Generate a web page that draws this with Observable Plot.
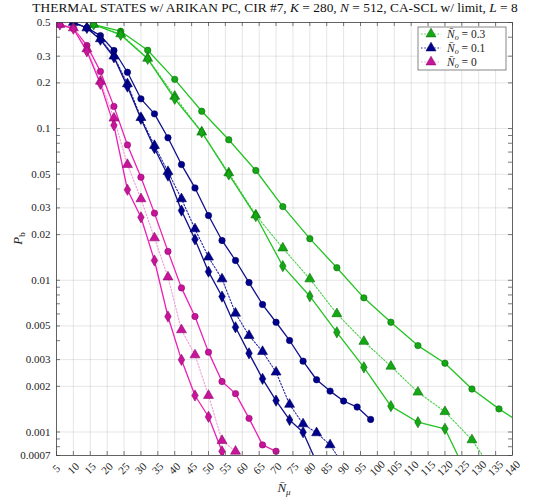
<!DOCTYPE html>
<html><head><meta charset="utf-8">
<script src="https://cdn.jsdelivr.net/npm/d3@7"></script>
<script src="https://cdn.jsdelivr.net/npm/@observablehq/plot@0.6"></script>
<style>
body{margin:0;background:#fff;}
#wrap{position:relative;width:550px;height:500px;font-family:"Liberation Serif",serif;}
#title{position:absolute;top:0;left:0;width:550px;text-align:center;font-size:13.4px;line-height:16px;white-space:nowrap;color:#111;}
#chart svg, #chart svg text{font-family:"Liberation Serif",serif !important;}
</style></head><body>
<div id="wrap"><div id="chart"></div><div id="title">THERMAL STATES w/ ARIKAN PC, CIR #7, <i>K</i> = 280, <i>N</i> = 512, CA-SCL w/ limit, <i>L</i> = 8</div></div>
<script>
// ---- tick labels ----
const xTicks = [5,10,15,20,25,30,35,40,45,50,55,60,65,70,75,80,85,90,95,100,105,110,115,120,125,130,135,140];
const yTicks = [0.0007,0.001,0.002,0.003,0.005,0.01,0.02,0.03,0.05,0.1,0.2,0.3,0.5];
const yTickLabels = ["0.0007","0.001","0.002","0.003","0.005","0.01","0.02","0.03","0.05","0.1","0.2","0.3","0.5"];
const legendLabels = ["0.3","0.1","0"];

// ---- N0 = 0.3 (green) ----
const gCircX = [16,24,32,40,48,56,64,72,80,88,96,104,112,120,128,136,144];
const gCircY = [0.485,0.438,0.328,0.211,0.130,0.0843,0.0529,0.0306,0.0188,0.0121,0.00766,0.00529,0.00371,0.00284,0.00192,0.00142,0.00109];
const gTriX = [16,24,32,40,48,56,64,72,80,88,96,104,112,120,128,136];
const gTriY = [0.485,0.42,0.29,0.163,0.0946,0.051,0.0269,0.0163,0.0102,0.00601,0.00395,0.00271,0.00183,0.00136,0.000887,0.000485];
const gDiaX = [16,24,32,40,48,56,64,72,80,88,96,104,112,120,128];
const gDiaY = [0.485,0.415,0.288,0.157,0.0946,0.0498,0.0265,0.0124,0.00785,0.00454,0.00267,0.00148,0.00116,0.00105,0.00045];

// ---- N0 = 0.1 (blue) ----
const bCircX = [10,14,18,22,26,30,34,38,42,46,50,54,58,62,66,70,74,78,82,86,90,94,98];
const bCircY = [0.5,0.461,0.410,0.327,0.235,0.157,0.125,0.0869,0.0579,0.0406,0.0267,0.0183,0.0135,0.00966,0.00692,0.00529,0.00401,0.00293,0.00221,0.00186,0.00160,0.00146,0.00121];
const bTriX = [10,14,18,22,26,30,34,38,42,46,50,54,58,62,66,70,74,78,82,86,90];
const bTriY = [0.5,0.46,0.39,0.30,0.197,0.118,0.0773,0.052,0.0344,0.0218,0.0142,0.0102,0.00606,0.00432,0.00339,0.00248,0.00152,0.00113,0.000987,0.000822,0.0006];
const bDiaX = [10,14,18,22,26,30,34,38,42,46,50,54,58,62,66,70,74,78,82];
const bDiaY = [0.5,0.46,0.385,0.295,0.189,0.116,0.0742,0.049,0.0288,0.0186,0.0114,0.00781,0.00490,0.00330,0.00224,0.00161,0.00120,0.000996,0.00063];

// ---- N0 = 0 (magenta) ----
const mCircX = [6,10,14,18,22,26,30,34,38,42,46,50,54,58,62,66,70];
const mCircY = [0.485,0.458,0.353,0.238,0.140,0.078,0.0478,0.0277,0.0155,0.00891,0.00577,0.00336,0.00215,0.00179,0.00123,0.000822,0.000746];
const mTriX = [6,10,14,18,22,26,30,34,38,42,46,50,54,58];
const mTriY = [0.485,0.46,0.335,0.205,0.117,0.0579,0.0344,0.0190,0.0105,0.00471,0.00322,0.00174,0.000878,0.000746];
const mDiaX = [6,10,14,18,22,26,30,34,38,42,46,50,54,58];
const mDiaY = [0.485,0.455,0.323,0.197,0.105,0.0395,0.0260,0.0135,0.00577,0.00299,0.00174,0.00126,0.000746,0.00045];

const pal = {
  g: {line:"#22c322", dot:"#4ccf4c", fill:"#14a814", edge:"#0a6e0a"},
  b: {line:"#10108c", dot:"#2a2aa6", fill:"#00008f", edge:"#00005a"},
  m: {line:"#ec20b4", dot:"#f29ad9", fill:"#c8139a", edge:"#8c0c6b"}
};
const series = [
  {c:"g", sym:"circle", xs:gCircX, ys:gCircY, dotted:false},
  {c:"g", sym:"triangle", xs:gTriX, ys:gTriY, dotted:true},
  {c:"g", sym:"diamond", xs:gDiaX, ys:gDiaY, dotted:false},
  {c:"b", sym:"circle", xs:bCircX, ys:bCircY, dotted:false},
  {c:"b", sym:"triangle", xs:bTriX, ys:bTriY, dotted:true},
  {c:"b", sym:"diamond", xs:bDiaX, ys:bDiaY, dotted:false},
  {c:"m", sym:"circle", xs:mCircX, ys:mCircY, dotted:false},
  {c:"m", sym:"triangle", xs:mTriX, ys:mTriY, dotted:true},
  {c:"m", sym:"diamond", xs:mDiaX, ys:mDiaY, dotted:false}
];

// minor y ticks (log decades)
const yMinor = [];
for (let e = -4; e <= 0; e++) for (let k = 1; k <= 9; k++) {
  const v = +(k * Math.pow(10, e)).toPrecision(6);
  if (v >= 0.0007 && v <= 0.5) yMinor.push(v);
}

const FONT = "Liberation Serif, serif";
const W = 550, H = 500, mL = 56, mR = 38, mT = 22, mB = 45;
const fw = W - mL - mR, fh = H - mT - mB;
const tl = 4;

const marks = [
  Plot.gridX(xTicks, {stroke:"#000", strokeOpacity:0.1}),
  Plot.gridY(yTicks, {stroke:"#000", strokeOpacity:0.1}),
];
for (const s of series) {
  const data = s.xs.map((x,i)=>({x, y:s.ys[i]}));
  const p = pal[s.c];
  marks.push(Plot.line(data, {x:"x", y:"y", stroke: s.dotted ? p.dot : p.line,
    strokeWidth: s.dotted ? 1.1 : 1.3, strokeDasharray: s.dotted ? "1.5,1.8" : null, clip:true}));
}
for (const s of series) {
  const data = s.xs.map((x,i)=>({x, y:s.ys[i]}));
  const p = pal[s.c];
  marks.push(Plot.dot(data, {x:"x", y:"y", symbol: s.sym, r: s.sym==="triangle" ? 3.7 : (s.sym==="diamond" ? 3.4 : 3.2),
    fill:p.fill, stroke:p.edge, strokeWidth:0.6, clip:true}));
}
marks.push(
  Plot.frame({stroke:"#444", strokeWidth:0.8}),
  Plot.tickX(xTicks, {x:d=>d, insetTop: fh - tl, stroke:"#444", strokeWidth:0.7}),
  Plot.tickX(xTicks, {x:d=>d, insetBottom: fh - tl, stroke:"#444", strokeWidth:0.7}),
  Plot.tickY(yMinor, {y:d=>d, insetRight: fw - tl, stroke:"#444", strokeWidth:0.7}),
  Plot.tickY(yMinor, {y:d=>d, insetLeft: fw - tl, stroke:"#444", strokeWidth:0.7}),
  Plot.text(xTicks, {x:d=>d, frameAnchor:"bottom", text:d=>String(d), rotate:-45, textAnchor:"middle",
    lineAnchor:"middle", dy:13, dx:0, fontSize:11, fontFamily:FONT, fill:"#222"}),
  Plot.text(yTicks, {y:d=>d, frameAnchor:"left", text:(d,i)=>yTickLabels[i], textAnchor:"end",
    lineAnchor:"middle", dx:-6, fontSize:11, fontFamily:FONT, fill:"#222"})
);

const chart = Plot.plot({
  width: W, height: H, marginLeft: mL, marginRight: mR, marginTop: mT, marginBottom: mB,
  style: {fontFamily: FONT, background:"#fff"},
  x: {domain:[5,140], axis:null},
  y: {type:"log", domain:[0.0007,0.5], axis:null},
  marks
});
document.getElementById("chart").appendChild(chart);

// axis titles and legend
const svg = d3.select(chart).attr("font-family", FONT);
const yl = svg.append("text").attr("transform", `translate(22,${mT+fh/2}) rotate(-90)`)
  .attr("text-anchor","middle").attr("font-size",13).attr("fill","#222");
yl.append("tspan").attr("font-style","italic").text("P");
yl.append("tspan").attr("font-size",9).attr("dy",3).text("b");

const xl = svg.append("text").attr("x", mL+fw/2).attr("y", 492)
  .attr("text-anchor","middle").attr("font-size",13).attr("fill","#222");
xl.append("tspan").attr("font-style","italic").text("N\u0304");
xl.append("tspan").attr("font-size",9).attr("font-style","italic").attr("dy",3).text("\u03bc");

const lg = svg.append("g").attr("text-anchor","start");
lg.append("rect").attr("x",418).attr("y",27).attr("width",88).attr("height",43)
  .attr("fill","#fff").attr("stroke","#555").attr("stroke-width",0.7);
["g","b","m"].forEach((c,i)=>{
  const yy = 34 + i*14;
  lg.append("line").attr("x1",421).attr("x2",441).attr("y1",yy).attr("y2",yy)
    .attr("stroke",pal[c].dot).attr("stroke-width",1.1).attr("stroke-dasharray","1.5,1.8");
  lg.append("path").attr("d", d3.symbol(d3.symbolTriangle, Math.PI*3.7*3.7)())
    .attr("transform",`translate(431,${yy})`).attr("fill",pal[c].fill).attr("stroke",pal[c].edge).attr("stroke-width",0.6);
  const t = lg.append("text").attr("x",447).attr("y",yy+4).attr("font-size",11.5).attr("fill","#222");
  t.append("tspan").attr("font-style","italic").text("N\u0304");
  t.append("tspan").attr("font-style","italic").attr("font-size",8).attr("dy",2).text("o");
  t.append("tspan").attr("dy",-2).text(" = " + legendLabels[i]);
});
</script>
</body></html>
